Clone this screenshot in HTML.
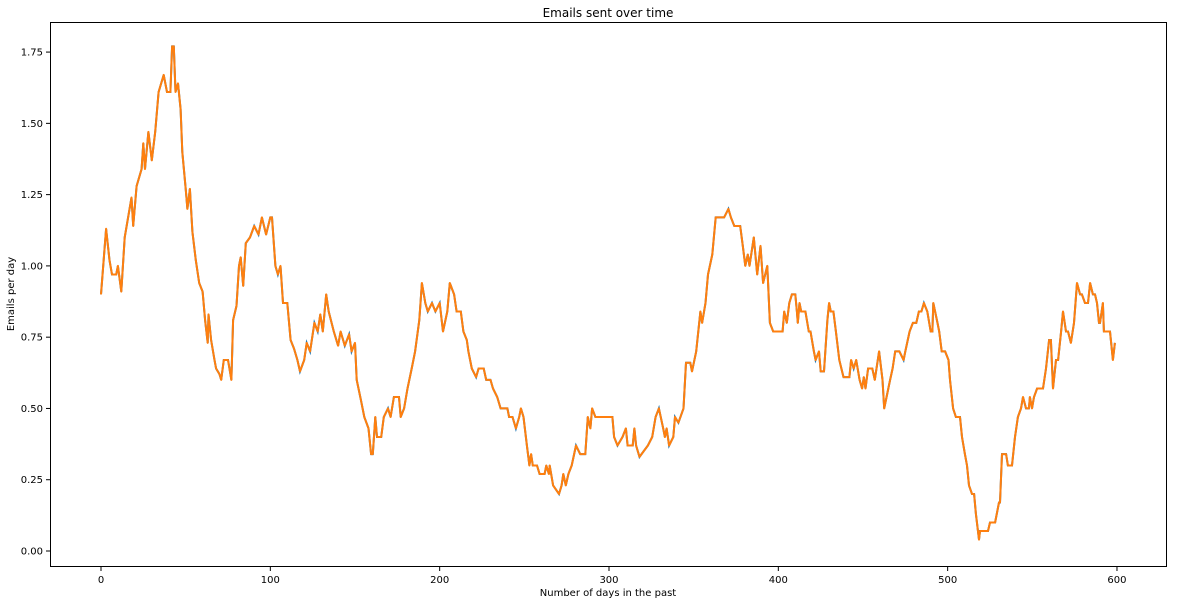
<!DOCTYPE html>
<html><head><meta charset="utf-8"><style>
body{margin:0;background:#fff;font-family:"Liberation Sans","DejaVu Sans",sans-serif;}
svg text{font-family:"DejaVu Sans","Liberation Sans",sans-serif;}
</style></head><body>
<svg id="chart" width="1177" height="604" xmlns="http://www.w3.org/2000/svg">
<rect width="1177" height="604" fill="#fff"/>
<text x="608" y="17" font-size="12" text-anchor="middle">Emails sent over time</text>
<text x="608" y="596" font-size="10" text-anchor="middle">Number of days in the past</text>
<text transform="translate(14,294) rotate(-90)" font-size="10" text-anchor="middle">Emails per day</text>
<g id="axes"></g>
<g id="series"></g>
<rect x="50.5" y="22.5" width="1116" height="544" fill="none" stroke="#000" stroke-width="1"/>
</svg>
<script>
const xTicks=[0,100,200,300,400,500,600];
const yTicks=[0,0.25,0.5,0.75,1.0,1.25,1.5,1.75];
const yTickLabels=["0.00","0.25","0.50","0.75","1.00","1.25","1.50","1.75"];
const days=[0,3,5,6.5,9,10,12,14,18,19,21,24,25,26,28,30,32,34,37,39,41,42,43,44,45.5,47,48,50,51,52.5,54,56,58,60,61.5,63,63.5,65,67,68,70,71,72.5,75,77,78,80,81.5,82.5,84,85.5,88,90.5,93,95,97.5,100,101,103,104.5,106,107.5,110,112,114,116,117.5,120,121.5,123.5,126,128,129.5,131,133,134.5,137.5,140,141.5,144,146.5,148,150,151,153.5,155.5,158,159.5,160.5,162,163,165.5,167,169.5,171,173,176,177,179,181,183.5,185.5,188,189.5,191.5,193,195.5,197.5,200,202,204.5,206,208.5,210,212.5,214,216,217,219,221.5,223,226,227.5,230,231.5,234,236,240,241,243,245,247,248,249.5,251.5,253,254,255,257.5,259,262,263,264.5,265,267,270.5,272,273,274.5,276,278,280.5,283,286,287.5,289,290,292,302,303,305,308,310,311,314,315,316,318,323,325.5,327.5,329.5,332,333,334,335.5,338,339,341,344,345.5,348,349,351.5,354,355,357,358.5,361,363,368,370.5,372,374,377.5,379,380.5,382,383,385.5,387.5,389.5,391,393.5,395,397,402.5,403.5,405,406.5,408,410,411,411.5,412.5,413.5,416,418,419,421,422,424,425,427,429,430,431,432.5,434,436,438.5,442,443,444.5,446,448,449.5,450.5,451.5,453,455.5,457,458,459.5,461.5,462.5,466,467.5,469,471.5,474,475,477.5,479.5,481.5,483,484.5,486,488,490,491,491.5,494,495,496.5,498.5,500.5,501.4,503.2,504.9,507.3,508.5,510.2,511.4,512.6,514.4,515.6,516.7,518.5,519.1,523.8,525.0,528.0,530.3,530.9,532.1,534.5,535.6,538.0,539.8,541.5,543.3,544.5,546.3,548.0,548.6,549.8,551.0,552.8,556.3,558.1,559.9,561.0,562.2,564.0,565.2,567.0,568.1,569.9,571.1,572.8,574.6,576.4,578.2,579.3,581.1,582.9,584.1,585.8,587.0,588.2,589.4,590.0,591.7,592.3,595.9,597.6,598.8];
const emails=[0.90,1.13,1.02,0.97,0.97,1.00,0.91,1.10,1.24,1.14,1.28,1.34,1.43,1.34,1.47,1.37,1.47,1.61,1.67,1.61,1.61,1.77,1.77,1.61,1.64,1.55,1.40,1.27,1.20,1.27,1.12,1.02,0.94,0.91,0.81,0.73,0.83,0.74,0.67,0.64,0.62,0.60,0.67,0.67,0.60,0.81,0.86,1.00,1.03,0.93,1.08,1.10,1.14,1.11,1.17,1.11,1.17,1.17,1.00,0.97,1.00,0.87,0.87,0.74,0.71,0.67,0.63,0.67,0.73,0.70,0.80,0.77,0.83,0.77,0.90,0.84,0.77,0.72,0.77,0.72,0.76,0.70,0.73,0.60,0.53,0.47,0.43,0.34,0.34,0.47,0.40,0.40,0.47,0.50,0.47,0.54,0.54,0.47,0.50,0.57,0.64,0.70,0.81,0.94,0.87,0.84,0.87,0.84,0.87,0.77,0.84,0.94,0.90,0.84,0.84,0.77,0.74,0.70,0.64,0.61,0.64,0.64,0.60,0.60,0.57,0.54,0.50,0.50,0.47,0.47,0.43,0.47,0.50,0.47,0.37,0.30,0.34,0.30,0.30,0.27,0.27,0.30,0.27,0.30,0.23,0.20,0.23,0.27,0.23,0.27,0.30,0.37,0.34,0.34,0.47,0.43,0.50,0.47,0.47,0.40,0.37,0.40,0.43,0.37,0.37,0.43,0.37,0.33,0.37,0.40,0.47,0.50,0.43,0.40,0.43,0.37,0.40,0.47,0.45,0.50,0.66,0.66,0.63,0.70,0.84,0.80,0.87,0.97,1.04,1.17,1.17,1.20,1.17,1.14,1.14,1.07,1.00,1.04,1.00,1.10,0.97,1.07,0.94,1.00,0.80,0.77,0.77,0.84,0.80,0.87,0.90,0.90,0.84,0.80,0.87,0.84,0.84,0.77,0.77,0.70,0.67,0.70,0.63,0.63,0.81,0.87,0.84,0.84,0.77,0.67,0.61,0.61,0.67,0.64,0.67,0.60,0.57,0.61,0.57,0.64,0.64,0.60,0.64,0.70,0.60,0.50,0.60,0.64,0.70,0.70,0.67,0.70,0.77,0.80,0.80,0.84,0.84,0.87,0.84,0.77,0.77,0.87,0.80,0.77,0.70,0.70,0.67,0.60,0.50,0.47,0.47,0.40,0.34,0.30,0.23,0.20,0.20,0.13,0.04,0.07,0.07,0.10,0.10,0.17,0.17,0.34,0.34,0.30,0.30,0.40,0.47,0.50,0.54,0.50,0.50,0.54,0.50,0.54,0.57,0.57,0.64,0.74,0.74,0.57,0.67,0.67,0.77,0.84,0.77,0.77,0.73,0.80,0.94,0.90,0.90,0.87,0.87,0.94,0.90,0.90,0.87,0.80,0.80,0.87,0.77,0.77,0.67,0.73];
const NS="http://www.w3.org/2000/svg";
function xs(d){return 101+d*1.6933;}
function ys(v){return 551-v*285.1;}
const axes=document.getElementById('axes');
xTicks.forEach(t=>{
  const l=document.createElementNS(NS,'line');
  
  
  l.setAttribute('x1',xs(t));l.setAttribute('x2',xs(t));l.setAttribute('y1',567);l.setAttribute('y2',571);l.setAttribute('stroke','#000');
  axes.appendChild(l);
  const tx=document.createElementNS(NS,'text');
  
  
  tx.setAttribute('x',xs(t));tx.setAttribute('y',583);tx.setAttribute('font-size','10');tx.setAttribute('text-anchor','middle');
  tx.textContent=t;axes.appendChild(tx);
});
yTicks.forEach((t,i)=>{
  const l=document.createElementNS(NS,'line');
  
  
  l.setAttribute('x1',46);l.setAttribute('x2',50);l.setAttribute('y1',ys(t));l.setAttribute('y2',ys(t));l.setAttribute('stroke','#000');
  axes.appendChild(l);
  const tx=document.createElementNS(NS,'text');
  
  
  tx.setAttribute('x',43);tx.setAttribute('y',ys(t)+3.5);tx.setAttribute('font-size','10');tx.setAttribute('text-anchor','end');
  tx.textContent=yTickLabels[i];axes.appendChild(tx);
});
const pts=days.map((d,i)=>xs(d).toFixed(1)+','+ys(emails[i]).toFixed(1)).join(' ');
const series=document.getElementById('series');
const blue=document.createElementNS(NS,'polyline');


blue.setAttribute('points',pts);blue.setAttribute('fill','none');blue.setAttribute('stroke','#1f77b4');blue.setAttribute('stroke-width','2');
series.appendChild(blue);
const orange=document.createElementNS(NS,'polyline');


orange.setAttribute('points',pts);orange.setAttribute('fill','none');orange.setAttribute('stroke','#ff7f0e');orange.setAttribute('stroke-width','2');orange.setAttribute('stroke-linejoin','round');
series.appendChild(orange);
</script>
</body></html>
